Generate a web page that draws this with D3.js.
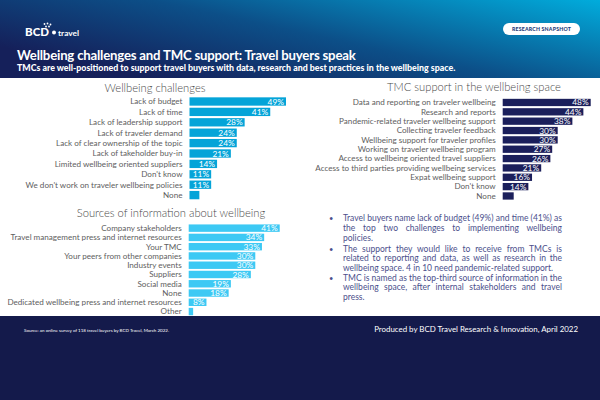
<!DOCTYPE html>
<html>
<head>
<meta charset="utf-8">
<script src="https://cdn.jsdelivr.net/npm/d3@7"></script>
<style>
  body { margin: 0; background: #fff; }
  svg { display: block; font-family: Lato, "Open Sans", sans-serif; }
</style>
</head>
<body>
<div id="chart"></div>
<script>
// survey data
var challengeLabels = ["Lack of budget", "Lack of time", "Lack of leadership support", "Lack of traveler demand",
  "Lack of clear ownership of the topic", "Lack of takeholder buy-in", "Limited wellbeing oriented suppliers",
  "Don't know", "We don't work on traveler wellbeing policies", "None"];
var challengeValues = [49, 41, 28, 24, 24, 21, 14, 11, 11, 5];

var supportLabels = ["Data and reporting on traveler wellbeing", "Research and reports",
  "Pandemic-related traveler wellbeing support", "Collecting traveler feedback",
  "Wellbeing support for traveler profiles", "Working on traveler wellbeing program",
  "Access to wellbeing oriented travel suppliers", "Access to third parties providing wellbeing services",
  "Expat wellbeing support", "Don't know", "None"];
var supportValues = [48, 44, 38, 30, 30, 27, 26, 21, 16, 14, 6];

var sourceLabels = ["Company stakeholders", "Travel management press and internet resources", "Your TMC",
  "Your peers from other companies", "Industry events", "Suppliers", "Social media", "None",
  "Dedicated wellbeing press and internet resources", "Other"];
var sourceValues = [41, 34, 33, 30, 30, 28, 19, 18, 8, 2];

var bullets = [
  ["Travel buyers name lack of budget (49%) and time (41%) as", "the top two challenges to implementing wellbeing", "policies."],
  ["The support they would like to receive from TMCs is", "related to reporting and data, as well as research in the", "wellbeing space. 4 in 10 need pandemic-related support."],
  ["TMC is named as the top-third source of information in the", "wellbeing space, after internal stakeholders and travel", "press."]
];

var W = 600, H = 400;
var svg = d3.select("#chart").append("svg").attr("width", W).attr("height", H);
var defs = svg.append("defs");
var grad = defs.append("linearGradient").attr("id", "hdr").attr("x1", "0%").attr("y1", "60%").attr("x2", "100%").attr("y2", "0%");
grad.append("stop").attr("offset", "0%").attr("stop-color", "#15205a");
grad.append("stop").attr("offset", "45%").attr("stop-color", "#0c4f88");
grad.append("stop").attr("offset", "100%").attr("stop-color", "#01acdc");

// header
svg.append("rect").attr("width", W).attr("height", 78).attr("fill", "url(#hdr)");
svg.append("text").attr("x", 25).attr("y", 36).attr("fill", "#fff")
  .attr("font-weight", "900").attr("font-size", 11.5).text("BCD");
[[44.5, 24], [47.5, 23.5], [50.5, 24.5], [46, 26.5], [49, 26.5]].forEach(function (p) {
  svg.append("circle").attr("cx", p[0]).attr("cy", p[1]).attr("r", 0.9).attr("fill", "#fff");
});
svg.append("circle").attr("cx", 54).attr("cy", 32.5).attr("r", 2).attr("fill", "#fff");
svg.append("text").attr("x", 58).attr("y", 35.5).attr("fill", "#fff")
  .attr("font-size", 8.3).attr("font-weight", "700").text("travel");

svg.append("rect").attr("x", 503).attr("y", 23).attr("width", 77).attr("height", 12).attr("rx", 6).attr("fill", "#fff");
svg.append("text").attr("x", 541.5).attr("y", 31.2).attr("text-anchor", "middle").attr("fill", "#1d3a78")
  .attr("font-size", 5.2).attr("font-weight", "900").attr("letter-spacing", 0.2).text("RESEARCH SNAPSHOT");

svg.append("text").attr("x", 17).attr("y", 60).attr("fill", "#fff").attr("font-size", 13.2)
  .attr("font-weight", "700").attr("letter-spacing", -0.2)
  .text("Wellbeing challenges and TMC support: Travel buyers speak");
svg.append("text").attr("x", 17).attr("y", 71).attr("fill", "#fff").attr("font-size", 8.8)
  .attr("font-weight", "900")
  .text("TMCs are well-positioned to support travel buyers with data, research and best practices in the wellbeing space.");

// bar panels
function panel(opt) {
  var g = svg.append("g");
  var y = d3.scaleBand().domain(opt.labels).range([opt.top, opt.top + opt.step * opt.labels.length]).paddingInner(opt.pad).paddingOuter(opt.pad / 2);
  var x = d3.scaleLinear().domain([0, opt.max]).range([opt.x0, opt.x0 + opt.maxW]);

  g.append("text").attr("x", opt.tx).attr("y", opt.ty).attr("text-anchor", "middle")
    .attr("fill", "#4a4a4a").attr("font-size", 11.2).attr("font-weight", "300").text(opt.title);

  var rows = g.selectAll("g.row").data(opt.values).enter().append("g").attr("class", "row");
  rows.append("rect")
    .attr("x", x(0))
    .attr("y", function (d, i) { return y(opt.labels[i]); })
    .attr("width", function (d) { return x(d) - x(0); })
    .attr("height", y.bandwidth())
    .attr("fill", opt.color);
  rows.append("text")
    .attr("x", x(0) - 7)
    .attr("y", function (d, i) { return y(opt.labels[i]) + y.bandwidth() / 2; })
    .attr("dy", "0.35em").attr("text-anchor", "end")
    .attr("fill", "#5e5e5e").attr("font-size", 8.1)
    .text(function (d, i) { return opt.labels[i]; });
  rows.each(function (d, i) {
    if (d < 8) return;
    d3.select(this).append("text")
      .attr("x", x(d) - 2)
      .attr("y", y(opt.labels[i]) + y.bandwidth() / 2)
      .attr("dy", "0.36em").attr("text-anchor", "end")
      .attr("fill", "#fff").attr("font-size", 8.4)
      .text(d + "%");
  });
}

panel({ labels: challengeLabels, values: challengeValues, title: "Wellbeing challenges",
  tx: 155, ty: 92, top: 96.3, step: 10.4, pad: 0.2, x0: 189.5, max: 49, maxW: 96.5, color: "#04a4d8" });
panel({ labels: supportLabels, values: supportValues, title: "TMC support in the wellbeing space",
  tx: 474, ty: 91, top: 97.8, step: 9.35, pad: 0.22, x0: 502.7, max: 48, maxW: 88, color: "#1b1f5b" });
panel({ labels: sourceLabels, values: sourceValues, title: "Sources of information about wellbeing",
  tx: 171, ty: 217, top: 223.5, step: 9.27, pad: 0.2, x0: 188.7, max: 41, maxW: 91, color: "#3dc9f4" });

// bullet notes, justified by word spacing
var bx = 343, bw = 219, lh = 9.75;
var paraTop = [221, 251.5, 280.5];
bullets.forEach(function (lines, p) {
  svg.append("text").attr("x", 329).attr("y", paraTop[p]).attr("fill", "#4b4f8c")
    .attr("font-size", 7.5).text("•");
  lines.forEach(function (line, i) {
    var t = svg.append("text").attr("x", bx).attr("y", paraTop[p] + i * lh)
      .attr("fill", "#4b4f8c").attr("font-size", 8.5).text(line);
    if (i < lines.length - 1) {
      var w = t.node().getComputedTextLength();
      var gaps = line.split(" ").length - 1;
      t.attr("word-spacing", (bw - w) / gaps);
    }
  });
});

// footer
svg.append("rect").attr("y", 316).attr("width", W).attr("height", H - 316).attr("fill", "#141a4b");
svg.append("text").attr("x", 24).attr("y", 332).attr("fill", "#fff").attr("font-size", 4.5)
  .text("Source: an online survey of 118 travel buyers by BCD Travel, March 2022.");
svg.append("text").attr("x", 578).attr("y", 332).attr("text-anchor", "end").attr("fill", "#fff")
  .attr("font-size", 7.9).text("Produced by BCD Travel Research & Innovation, April 2022");
</script>
</body>
</html>
